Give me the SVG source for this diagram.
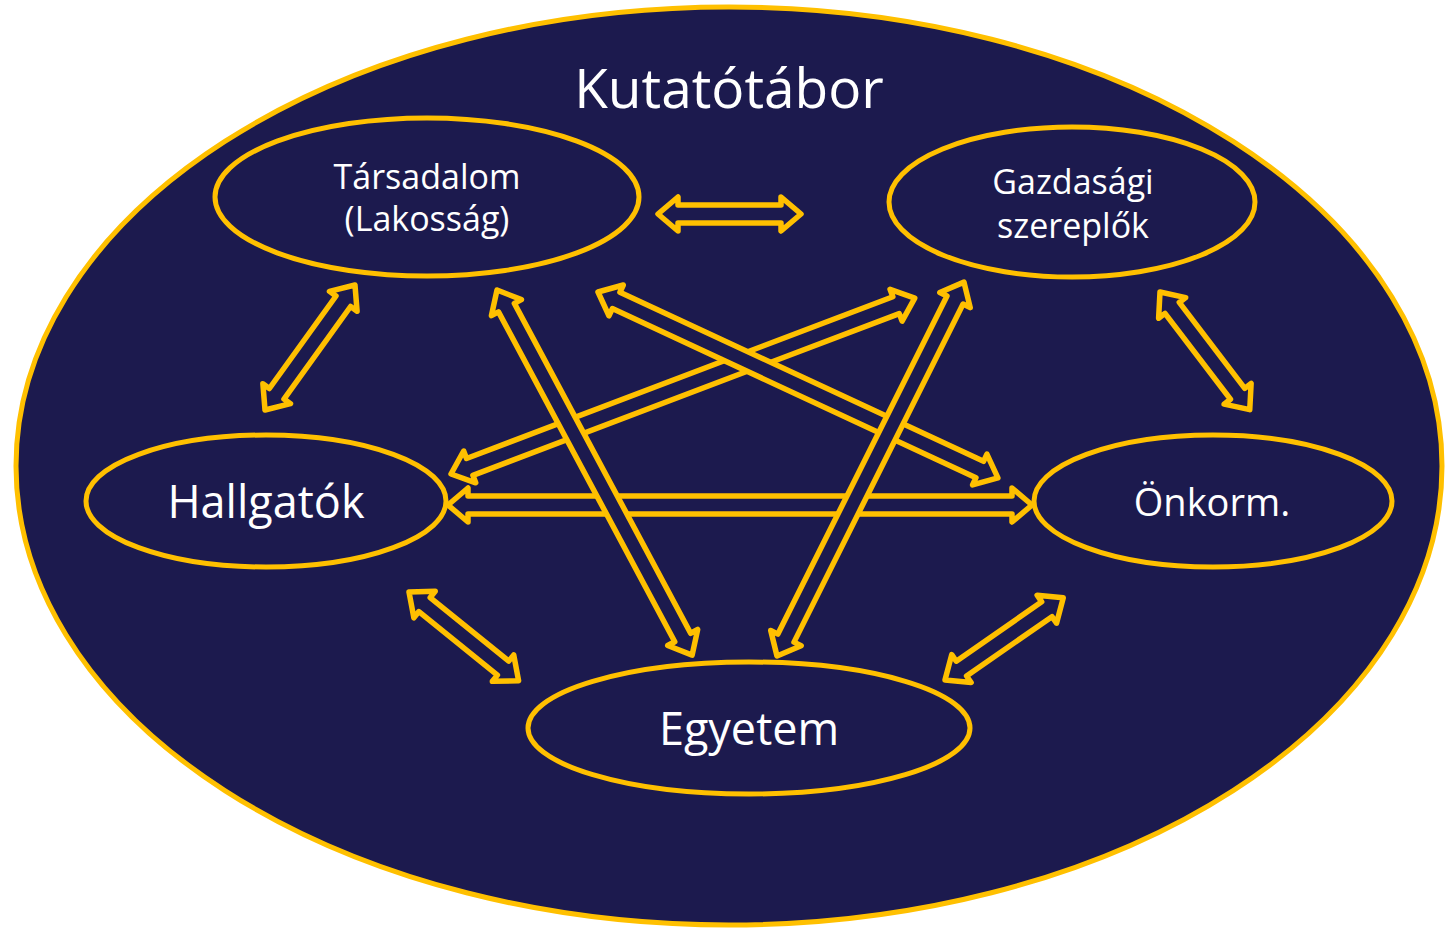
<svg xmlns="http://www.w3.org/2000/svg" width="1445" height="929" viewBox="0 0 1445 929">
<style>
.bg{fill:#1c1a4e;stroke:#ffc000;stroke-width:5}
.node{fill:#1c1a4e;stroke:#ffc000;stroke-width:5}
.arr{fill:#1c1a4e;stroke:#ffc000;stroke-width:5.5;stroke-linejoin:round}
text{font-family:"Open Sans","DejaVu Sans",sans-serif;fill:#ffffff;text-anchor:middle}
</style>
<rect width="1445" height="929" fill="#ffffff"/>
<g id="kutatotabor">
<ellipse class="bg" cx="729" cy="466" rx="713" ry="459"/>
<text x="729" y="108" font-size="55">Kutatótábor</text>
</g>
<g id="tarsadalom">
<ellipse class="node" cx="427" cy="197" rx="212" ry="79"/>
<text x="427" y="189" font-size="34">Társadalom</text>
<text x="427" y="231" font-size="34">(Lakosság)</text>
</g>
<g id="gazdasagi">
<ellipse class="node" cx="1072" cy="202" rx="183" ry="75"/>
<text x="1073" y="194" font-size="34">Gazdasági</text>
<text x="1073" y="238" font-size="34">szereplők</text>
</g>
<g id="hallgatok">
<ellipse class="node" cx="266" cy="501" rx="180" ry="66"/>
<text x="266" y="518" font-size="45">Hallgatók</text>
</g>
<g id="onkorm">
<ellipse class="node" cx="1213" cy="501" rx="179" ry="66"/>
<text x="1212" y="516" font-size="38">Önkorm.</text>
</g>
<g id="egyetem">
<ellipse class="node" cx="749" cy="728" rx="221" ry="66"/>
<text x="749" y="745" font-size="45">Egyetem</text>
</g>
<g id="connectors">
<path class="arr" transform="translate(448,505)" d="M0,0 L20,-17 L20,-9 L564,-9 L564,-17 L584,0 L564,17 L564,9 L20,9 L20,17 Z"/>
<path class="arr" transform="translate(658,214)" d="M0,0 L20,-17 L20,-9 L123,-9 L123,-17 L143,0 L123,17 L123,9 L20,9 L20,17 Z"/>
<path class="arr" transform="translate(265,410) rotate(-54.25)" d="M0,0 L20,-17 L20,-9 L134,-9 L134,-17 L154,0 L134,17 L134,9 L20,9 L20,17 Z"/>
<path class="arr" transform="translate(1160,292) rotate(52.67)" d="M0,0 L20,-17 L20,-9 L128,-9 L128,-17 L148,0 L128,17 L128,9 L20,9 L20,17 Z"/>
<path class="arr" transform="translate(409,592) rotate(38.98)" d="M0,0 L20,-17 L20,-9 L121,-9 L121,-17 L141,0 L121,17 L121,9 L20,9 L20,17 Z"/>
<path class="arr" transform="translate(945,680) rotate(-34.79)" d="M0,0 L20,-17 L20,-9 L124,-9 L124,-17 L144,0 L124,17 L124,9 L20,9 L20,17 Z"/>
<path class="arr" transform="translate(451,474) rotate(-20.77)" d="M0,0 L20,-17 L20,-9 L476,-9 L476,-17 L496,0 L476,17 L476,9 L20,9 L20,17 Z"/>
<path class="arr" transform="translate(598,292) rotate(24.94)" d="M0,0 L20,-17 L20,-9 L421,-9 L421,-17 L441,0 L421,17 L421,9 L20,9 L20,17 Z"/>
<path class="arr" transform="translate(497,290) rotate(61.88)" d="M0,0 L20,-17 L20,-9 L394,-9 L394,-17 L414,0 L394,17 L394,9 L20,9 L20,17 Z"/>
<path class="arr" transform="translate(777,656) rotate(-63.43)" d="M0,0 L20,-17 L20,-9 L398,-9 L398,-17 L418,0 L398,17 L398,9 L20,9 L20,17 Z"/>
</g>
</svg>
